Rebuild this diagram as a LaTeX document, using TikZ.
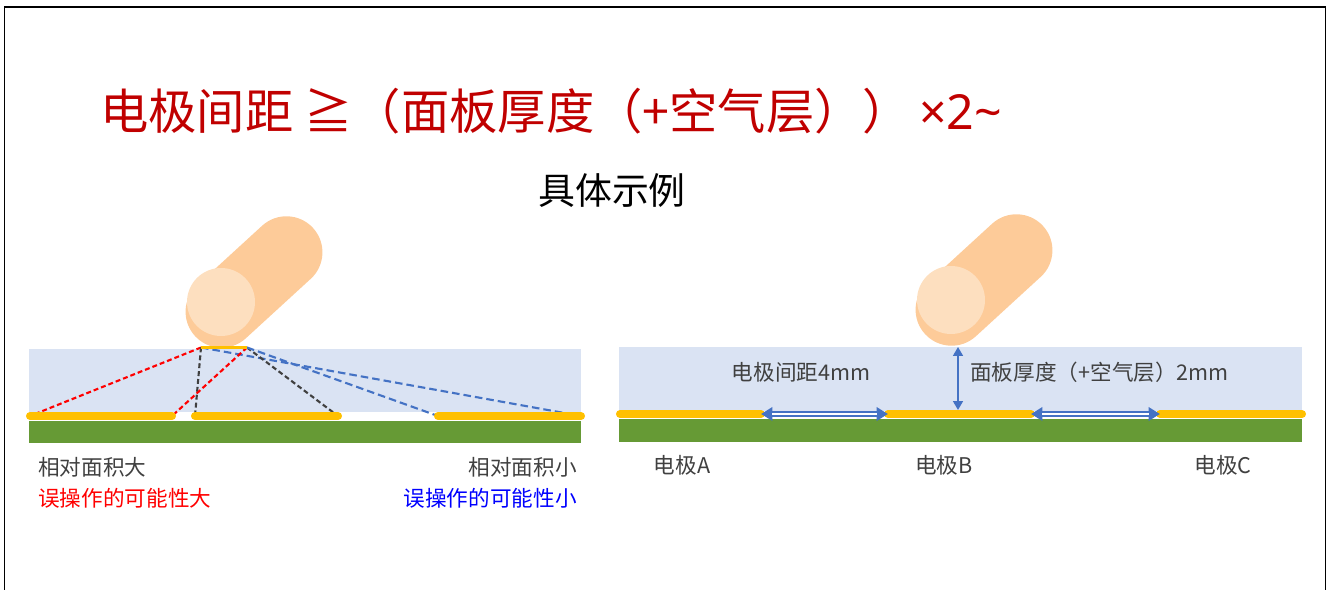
\documentclass[tikz,border=0pt]{standalone}
\usepackage{fontspec}
\setmainfont{Noto Sans CJK SC}
\newfontfamily\latinfont{Noto Sans}
\usetikzlibrary{arrows.meta, positioning}
\definecolor{titlered}{HTML}{C00000}
\definecolor{panelblue}{HTML}{DAE3F3}
\definecolor{boardgreen}{HTML}{669A35}
\definecolor{padyellow}{HTML}{FFC000}
\definecolor{skin}{HTML}{FDCB99}
\definecolor{skinlight}{HTML}{FDDFBF}
\definecolor{rayblue}{HTML}{4472C4}
\definecolor{textgray}{HTML}{404040}

\begin{document}
\begin{tikzpicture}[
    x=0.02cm, y=-0.02cm,
    tag/.style={font=\fontsize{12.3}{14}\selectfont, text=textgray, inner sep=0pt},
    panel/.style={fill=panelblue},
    board/.style={fill=boardgreen},
    electrode/.style={draw=padyellow, line width=4.6pt, line cap=round},
    ray/.style={line width=1.2pt, dash pattern=on 2.8pt off 1.7pt},
    redray/.style={ray, draw=red},
    grayray/.style={ray, draw=textgray},
    blueray/.style={ray, draw=rayblue, dash pattern=on 4.3pt off 2.3pt},
    gaparrow/.style={draw=rayblue, line width=3pt, >={Triangle[length=6.5pt,width=7.5pt]}, <->},
    gapcore/.style={draw=white, line width=1.2pt, shorten <=6.5pt, shorten >=6.5pt},
    thickarrow/.style={draw=rayblue, line width=1.1pt, >={Triangle[length=5pt,width=5.5pt]}, <->},
    finger/.pic={
        \fill[skin, rotate=42.5, rounded corners=0.72cm] (-80,-36) rectangle (80,36);
        \fill[skinlight] (-33,20) circle[radius=0.68cm];
    }
]
   \useasboundingbox (0,0) rectangle (1328,590);

   % Frame (open at the bottom)
   \draw[line width=1.1pt] (4.5,590) |- (1325.5,7) -- (1325.5,590);

   % Headings
   \node[anchor=west, inner sep=0pt, text=titlered, font=\fontsize{27.5}{33}\selectfont] (title) at (100,111)
        {电极间距 ≧（面板厚度（+空气层））{\latinfont\,×2\textasciitilde}};
   \node[inner sep=0pt, font=\fontsize{21}{25}\selectfont] (subtitle) at (612,191) {具体示例};

   % Left: wide electrodes
   \fill[panel] (29,349) rectangle (581,412);
   \fill[board] (29,421) rectangle (581,443);

   \coordinate (pad1) at (201,347.5);
   \coordinate (pad2) at (247,347.5);
   \coordinate (l1a) at (30,416);  \coordinate (l1b) at (172,416);
   \coordinate (l2a) at (195,416); \coordinate (l2b) at (338,416);
   \coordinate (l3a) at (438,416); \coordinate (l3b) at (581,416);

   \path (pad1) edge[redray] (l1a)
                edge[grayray] (l2a)
                edge[blueray] (l3b)
         (pad2) edge[redray] (l1b)
                edge[grayray] (l2b)
                edge[blueray] (l3a);

   \draw[electrode] (l1a) -- (l1b);
   \draw[electrode] (l2a) -- (l2b);
   \draw[electrode] (l3a) -- (l3b);

   \pic at (254,282) {finger};
   \draw[draw=padyellow, line width=1.6pt] (pad1) -- (pad2);

   \node[tag, anchor=west] (bigarea) at (38,467) {相对面积大};
   \node[tag, text=red, below=0.21cm of bigarea.south west, anchor=north west] (bigrisk) {误操作的可能性大};
   \node[tag, anchor=east] (smallarea) at (577,467) {相对面积小};
   \node[tag, text=blue, below=0.21cm of smallarea.south east, anchor=north east] (smallrisk) {误操作的可能性小};

   % Right: electrodes A, B, C
   \fill[panel] (619,347) rectangle (1302,411);
   \fill[board] (619,419) rectangle (1302,442);

   \coordinate (rA1) at (620,414);  \coordinate (rA2) at (761,414);
   \coordinate (rB1) at (888,414);  \coordinate (rB2) at (1031,414);
   \coordinate (rC1) at (1160,414); \coordinate (rC2) at (1302,414);

   \draw[electrode] (rA1) -- (rA2);
   \draw[electrode] (rB1) -- (rB2);
   \draw[electrode] (rC1) -- (rC2);

   \draw[gaparrow] (rA2) -- (rB1);
   \draw[gapcore] (rA2) -- (rB1);
   \draw[gaparrow] (rB2) -- (rC1);
   \draw[gapcore] (rB2) -- (rC1);

   \pic at (984,280) {finger};
   \coordinate (touch) at (958,347);
   \coordinate (base) at (958,410);
   \draw[thickarrow] (touch) -- (base);

   \node[tag] (pitch) at (801,372) {电极间距4mm};
   \node[tag, anchor=west] (thickness) at (970,372) {面板厚度（+空气层）2mm};

   \node[tag] (nameA) at (682,465) {电极A};
   \node[tag] (nameB) at (944,465) {电极B};
   \node[tag] (nameC) at (1223,465) {电极C};
\end{tikzpicture}
\end{document}
